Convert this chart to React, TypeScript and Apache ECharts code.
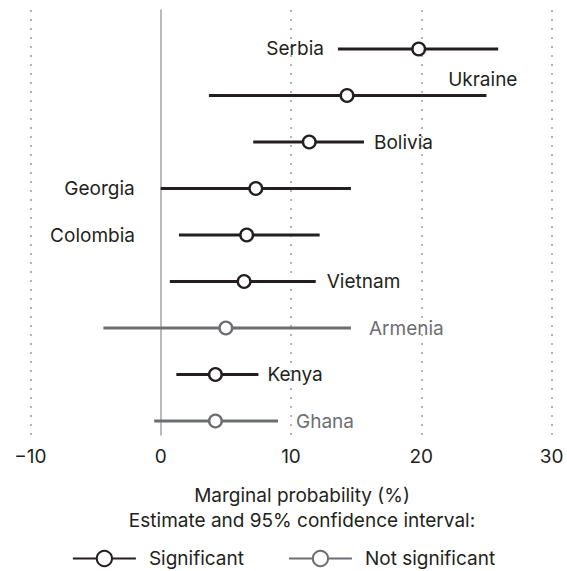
import React, { useEffect, useRef } from "react";
import * as echarts from "echarts";

// ---- data ----
const countries = ["Serbia", "Ukraine", "Bolivia", "Georgia", "Colombia", "Vietnam", "Armenia", "Kenya", "Ghana"];
const estimate = [19.8, 14.3, 11.4, 7.3, 6.6, 6.4, 5.0, 4.2, 4.2];
const lower = [13.6, 3.7, 7.1, 0.0, 1.4, 0.7, -4.4, 1.2, -0.5];
const upper = [25.9, 25.0, 15.6, 14.6, 12.2, 11.9, 14.6, 7.5, 9.0];
const significant = [1, 1, 1, 1, 1, 1, 0, 1, 0];
const xTicks = [-10, 0, 10, 20, 30];
const legendNames = ["Significant", "Not significant"];

// ---- layout (label placement relative to the interval ends, in px) ----
const labelLayout: { side: "left" | "right" | "top"; gap: number; dy?: number }[] = [
  { side: "left", gap: 14 },
  { side: "top", gap: 31, dy: -16 },
  { side: "right", gap: 10 },
  { side: "left", gap: 26 },
  { side: "left", gap: 44 },
  { side: "right", gap: 11 },
  { side: "right", gap: 18 },
  { side: "right", gap: 9 },
  { side: "right", gap: 18 },
];

const DARK = "#231f20";
const GRAY = "#6d6e71";
const FONT = "Inter";
const FS = 19;

export default function App() {
  const ref = useRef<HTMLDivElement>(null);

  useEffect(() => {
    if (!ref.current) return;
    const chart = echarts.init(ref.current, null, { renderer: "svg" });
    const rows = countries.map((_, i) => [i, lower[i], estimate[i], upper[i], significant[i]]);

    chart.setOption({
      animation: false,
      textStyle: { fontFamily: FONT },
      grid: { left: 30.4, right: 15.4, top: 10, bottom: 136 },
      xAxis: {
        type: "value",
        min: xTicks[0],
        max: xTicks[xTicks.length - 1],
        interval: 10,
        axisLine: { show: false },
        axisTick: { show: false },
        axisLabel: {
          margin: 12,
          fontSize: FS,
          color: DARK,
          fontFamily: FONT,
          formatter: (v: number) => (v < 0 ? "\u2212" + Math.abs(v) : String(v)),
        },
        splitLine: {
          show: true,
          lineStyle: {
            color: ["#b3b3b3", "rgba(0,0,0,0)", "#b3b3b3", "#b3b3b3", "#b3b3b3"],
            width: 2,
            type: [2, 7],
          },
        },
      },
      yAxis: {
        type: "value",
        inverse: true,
        min: -0.8387,
        max: 8.301,
        axisLine: { show: true, onZero: true, lineStyle: { color: "#a3a3a3", width: 1.5 } },
        axisTick: { show: false },
        axisLabel: { show: false },
        splitLine: { show: false },
      },
      legend: {
        data: legendNames,
        top: 549,
        left: "center",
        padding: 0,
        itemWidth: 63,
        itemHeight: 19,
        itemGap: 44,
        selectedMode: false,
        textStyle: { fontSize: FS, color: DARK, fontFamily: FONT, padding: [0, 0, 0, 8] },
      },
      graphic: [
        {
          type: "text",
          x: 302,
          y: 495.5,
          style: {
            text: "Marginal probability (%)",
            fill: DARK,
            font: `${FS}px ${FONT}`,
            textAlign: "center",
            textVerticalAlign: "middle",
          },
        },
        {
          type: "text",
          x: 302,
          y: 520.5,
          style: {
            text: "Estimate and 95% confidence interval:",
            fill: DARK,
            font: `${FS}px ${FONT}`,
            textAlign: "center",
            textVerticalAlign: "middle",
          },
        },
      ],
      series: [
        {
          type: "line",
          name: legendNames[0],
          data: [],
          symbol: "emptyCircle",
          lineStyle: { color: DARK, width: 3 },
          itemStyle: { color: DARK },
        },
        {
          type: "line",
          name: legendNames[1],
          data: [],
          symbol: "emptyCircle",
          lineStyle: { color: GRAY, width: 3 },
          itemStyle: { color: GRAY },
        },
        {
          type: "custom",
          name: "intervals",
          clip: false,
          data: rows,
          encode: { x: [1, 2, 3], y: 0 },
          renderItem: (params: any, api: any) => {
            const i = api.value(0);
            const lo = api.coord([api.value(1), i]);
            const est = api.coord([api.value(2), i]);
            const hi = api.coord([api.value(3), i]);
            const color = api.value(4) === 1 ? DARK : GRAY;
            const lay = labelLayout[i];
            let tx = 0;
            let ty = lo[1];
            let align = "left";
            if (lay.side === "left") {
              tx = lo[0] - lay.gap;
              align = "right";
            } else if (lay.side === "right") {
              tx = hi[0] + lay.gap;
              align = "left";
            } else {
              tx = hi[0] + lay.gap;
              ty = hi[1] + (lay.dy || 0);
              align = "right";
            }
            return {
              type: "group",
              children: [
                {
                  type: "line",
                  shape: { x1: lo[0], y1: lo[1], x2: hi[0], y2: hi[1] },
                  style: { stroke: color, lineWidth: 3 },
                },
                {
                  type: "circle",
                  shape: { cx: est[0], cy: est[1], r: 6.3 },
                  style: { fill: "#fff", stroke: color, lineWidth: 2.4 },
                },
                {
                  type: "text",
                  x: tx,
                  y: ty,
                  style: {
                    text: countries[i],
                    fill: color,
                    fontSize: FS,
                    fontFamily: FONT,
                    align,
                    verticalAlign: "middle",
                  },
                },
              ],
            };
          },
        },
      ],
    });

    return () => chart.dispose();
  }, []);

  return <div ref={ref} style={{ width: 567, height: 571, position: "absolute", left: 0, top: 0 }} />;
}
